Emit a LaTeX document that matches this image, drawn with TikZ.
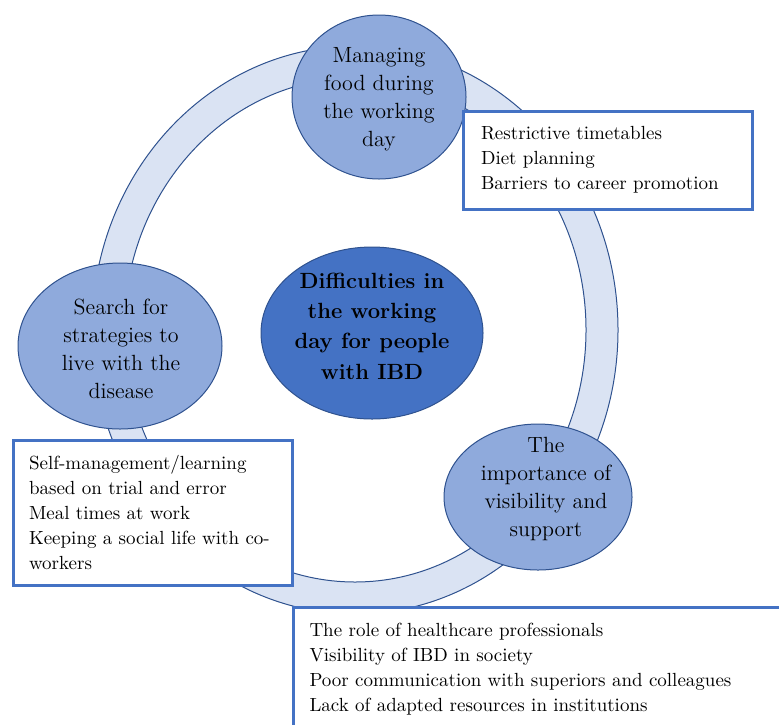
\documentclass[tikz,border=0pt]{standalone}
\usetikzlibrary{shapes.geometric}
\definecolor{ringfill}{HTML}{DAE3F3}
\definecolor{ringline}{HTML}{2F528F}
\definecolor{satfill}{HTML}{8FAADC}
\definecolor{mainfill}{HTML}{4472C4}
\definecolor{boxline}{HTML}{4472C4}
\tikzset{
  sat/.style={ellipse, draw=ringline, line width=0.5pt, fill=satfill, inner sep=0pt},
  mainc/.style={ellipse, draw=ringline, line width=0.5pt, fill=mainfill, inner sep=0pt},
  sattext/.style={align=center, inner sep=0pt, font=\fontsize{11}{14}\selectfont},
  maintext/.style={align=center, inner sep=0pt, font=\fontsize{11}{15.2}\selectfont\bfseries},
  infobox/.style={rectangle, draw=boxline, line width=1.5pt, fill=white, align=left,
    font=\fontsize{9.5}{12.5}\selectfont, inner ysep=0pt},
}
\begin{document}
\begin{tikzpicture}[x=0.5pt, y=-0.5pt]
\useasboundingbox (0,0) rectangle (779,724);
\clip (0,0) rectangle (779,724);
% ring
\coordinate (rc) at (355,330);
\draw[even odd rule, fill=ringfill, draw=ringline, line width=0.5pt]
  (rc) ellipse [x radius=131.5pt, y radius=142pt]
  (rc) ellipse [x radius=115.5pt, y radius=126pt];
% satellites
\node[sat, minimum width=87pt, minimum height=82pt] (food) at (379,97) {};
\node[sat, minimum width=102pt, minimum height=83pt] (search) at (120,346) {};
\node[sat, minimum width=94pt, minimum height=73pt] (vis) at (538,497) {};
\node[mainc, minimum width=111pt, minimum height=86pt] (main) at (372,333) {};
% texts
\node[sattext] (foodt) at (379,99) {Managing\\food during\\the working\\day};
\node[sattext] (searcht) at (121,349) {Search for\\strategies to\\live with the\\disease};
\node[sattext] (vist) at (546,489) {The\\importance of\\visibility and\\support};
\node[maintext] (maint) at (372,326) {Difficulties in\\the working\\day for people\\with IBD};
% boxes
\node[infobox, minimum width=144.5pt, minimum height=49pt, inner xsep=9pt, text width=126.5pt] (box1) at (607.5,160)
  {Restrictive timetables\\Diet planning\\Barriers to career promotion};
\node[infobox, minimum width=139.5pt, minimum height=72.5pt, inner xsep=8pt, text width=123.5pt] (box2) at (152.5,512.5)
  {Self-management/learning\\based on trial and error\\Meal times at work\\Keeping a social life with co-\\workers};
\node[infobox, anchor=north west, minimum width=254pt, minimum height=61.5pt, inner xsep=8pt, text width=238pt] (box3) at (292,606)
  {The role of healthcare professionals\\Visibility of IBD in society\\Poor communication with superiors and colleagues\\Lack of adapted resources in institutions};
\end{tikzpicture}
\end{document}
